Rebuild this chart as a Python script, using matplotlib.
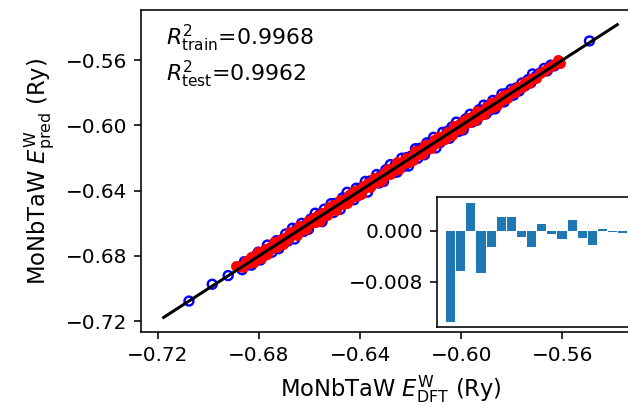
import numpy as np
import matplotlib
matplotlib.use("Agg")
import matplotlib.pyplot as plt

# Training set: DFT energies and model predictions (Ry)
train_dft = [
    -0.7076, -0.6984, -0.6921,
    -0.6876, -0.6866, -0.6857, -0.6848, -0.6839, -0.6829, -0.6820, -0.6811, -0.6802, -0.6793,
    -0.6784, -0.6775, -0.6766, -0.6757, -0.6748, -0.6739, -0.6730, -0.6721, -0.6712, -0.6703,
    -0.6694, -0.6685, -0.6676, -0.6667, -0.6658, -0.6649, -0.6640, -0.6631, -0.6622, -0.6613,
    -0.6604, -0.6595, -0.6586, -0.6577, -0.6568, -0.6559, -0.6550, -0.6541, -0.6532, -0.6523,
    -0.6514, -0.6505, -0.6496, -0.6487, -0.6478, -0.6469, -0.6460, -0.6451, -0.6442, -0.6433,
    -0.6424, -0.6415, -0.6406, -0.6397, -0.6388, -0.6379, -0.6370, -0.6361, -0.6352, -0.6343,
    -0.6334, -0.6325, -0.6316, -0.6307, -0.6298, -0.6289, -0.6280, -0.6271, -0.6262, -0.6253,
    -0.6244, -0.6235, -0.6226, -0.6217, -0.6208, -0.6199, -0.6190, -0.6181, -0.6172, -0.6163,
    -0.6154, -0.6145, -0.6136, -0.6127, -0.6118, -0.6109, -0.6100, -0.6091, -0.6082, -0.6073,
    -0.6064, -0.6055, -0.6046, -0.6037, -0.6028, -0.6019, -0.6010, -0.6001, -0.5992, -0.5983,
    -0.5974, -0.5965, -0.5956, -0.5947, -0.5938, -0.5929, -0.5920, -0.5911, -0.5902, -0.5893,
    -0.5884, -0.5875, -0.5866, -0.5857, -0.5848, -0.5839, -0.5830, -0.5821, -0.5812, -0.5803,
    -0.5793, -0.5782, -0.5771, -0.5760, -0.5748, -0.5736, -0.5724, -0.5718, -0.5705, -0.5690,
    -0.5672, -0.5660, -0.5646, -0.5632,
    -0.5493,
]
train_pred = [
    -0.7076, -0.6973, -0.6920,
    -0.6866, -0.6884, -0.6835, -0.6857, -0.6836, -0.6856, -0.6805, -0.6825, -0.6776, -0.6824,
    -0.6778, -0.6795, -0.6733, -0.6762, -0.6777, -0.6727, -0.6706, -0.6755, -0.6704, -0.6719,
    -0.6665, -0.6709, -0.6674, -0.6630, -0.6696, -0.6632, -0.6651, -0.6600, -0.6649, -0.6608,
    -0.6637, -0.6574, -0.6593, -0.6538, -0.6590, -0.6546, -0.6590, -0.6513, -0.6547, -0.6519,
    -0.6479, -0.6534, -0.6478, -0.6490, -0.6514, -0.6444, -0.6479, -0.6410, -0.6452, -0.6424,
    -0.6456, -0.6385, -0.6429, -0.6383, -0.6394, -0.6343, -0.6409, -0.6341, -0.6365, -0.6342,
    -0.6301, -0.6353, -0.6305, -0.6344, -0.6272, -0.6297, -0.6240, -0.6292, -0.6246, -0.6286,
    -0.6237, -0.6201, -0.6251, -0.6198, -0.6249, -0.6189, -0.6202, -0.6143, -0.6202, -0.6140,
    -0.6158, -0.6180, -0.6107, -0.6144, -0.6106, -0.6073, -0.6138, -0.6088, -0.6104, -0.6042,
    -0.6078, -0.6037, -0.6079, -0.6010, -0.6034, -0.5980, -0.6037, -0.5992, -0.6028, -0.5961,
    -0.5985, -0.5932, -0.5980, -0.5941, -0.5969, -0.5904, -0.5929, -0.5876, -0.5930, -0.5879,
    -0.5904, -0.5847, -0.5899, -0.5847, -0.5853, -0.5808, -0.5856, -0.5804, -0.5827, -0.5779,
    -0.5815, -0.5770, -0.5789, -0.5740, -0.5758, -0.5720, -0.5738, -0.5685, -0.5700, -0.5681,
    -0.5651, -0.5666, -0.5631, -0.5636,
    -0.5483,
]

# Test set: DFT energies and model predictions (Ry)
test_dft = [
    -0.6891, -0.6874, -0.6862, -0.6851, -0.6840, -0.6830, -0.6820, -0.6811, -0.6802, -0.6793,
    -0.6784, -0.6775, -0.6766, -0.6757, -0.6748, -0.6739, -0.6730, -0.6721, -0.6712, -0.6703,
    -0.6694, -0.6685, -0.6676, -0.6667, -0.6658, -0.6649, -0.6640, -0.6631, -0.6622, -0.6613,
    -0.6604, -0.6595, -0.6586, -0.6577, -0.6568, -0.6559, -0.6550, -0.6541, -0.6532, -0.6523,
    -0.6514, -0.6505, -0.6496, -0.6487, -0.6478, -0.6469, -0.6460, -0.6451, -0.6442, -0.6433,
    -0.6424, -0.6415, -0.6406, -0.6397, -0.6388, -0.6379, -0.6370, -0.6361, -0.6352, -0.6343,
    -0.6334, -0.6325, -0.6316, -0.6307, -0.6298, -0.6289, -0.6280, -0.6271, -0.6262, -0.6253,
    -0.6244, -0.6235, -0.6226, -0.6217, -0.6208, -0.6199, -0.6190, -0.6181, -0.6172, -0.6163,
    -0.6154, -0.6145, -0.6136, -0.6127, -0.6118, -0.6109, -0.6100, -0.6091, -0.6082, -0.6073,
    -0.6064, -0.6055, -0.6046, -0.6037, -0.6028, -0.6019, -0.6010, -0.6001, -0.5992, -0.5983,
    -0.5974, -0.5965, -0.5956, -0.5947, -0.5938, -0.5929, -0.5920, -0.5911, -0.5902, -0.5893,
    -0.5884, -0.5875, -0.5866, -0.5857, -0.5848, -0.5839, -0.5829, -0.5819, -0.5808, -0.5797,
    -0.5786, -0.5774, -0.5761, -0.5748, -0.5734, -0.5720, -0.5705, -0.5690, -0.5672, -0.5655,
    -0.5638, -0.5617, -0.5611,
]
test_pred = [
    -0.6864, -0.6862, -0.6870, -0.6833, -0.6843, -0.6808, -0.6834, -0.6802, -0.6777, -0.6812,
    -0.6780, -0.6759, -0.6788, -0.6746, -0.6754, -0.6715, -0.6745, -0.6719, -0.6693, -0.6727,
    -0.6686, -0.6696, -0.6653, -0.6669, -0.6644, -0.6669, -0.6614, -0.6640, -0.6617, -0.6636,
    -0.6587, -0.6599, -0.6565, -0.6594, -0.6558, -0.6584, -0.6537, -0.6540, -0.6550, -0.6499,
    -0.6521, -0.6490, -0.6517, -0.6480, -0.6456, -0.6482, -0.6457, -0.6475, -0.6424, -0.6438,
    -0.6399, -0.6431, -0.6397, -0.6419, -0.6374, -0.6380, -0.6350, -0.6380, -0.6346, -0.6320,
    -0.6346, -0.6315, -0.6341, -0.6291, -0.6301, -0.6268, -0.6298, -0.6267, -0.6271, -0.6227,
    -0.6265, -0.6223, -0.6232, -0.6198, -0.6223, -0.6191, -0.6214, -0.6159, -0.6174, -0.6150,
    -0.6174, -0.6120, -0.6146, -0.6122, -0.6141, -0.6092, -0.6105, -0.6070, -0.6098, -0.6064,
    -0.6086, -0.6041, -0.6045, -0.6056, -0.6004, -0.6027, -0.5999, -0.6025, -0.5974, -0.5987,
    -0.5954, -0.5982, -0.5949, -0.5968, -0.5915, -0.5940, -0.5917, -0.5929, -0.5886, -0.5899,
    -0.5863, -0.5889, -0.5858, -0.5877, -0.5835, -0.5842, -0.5811, -0.5831, -0.5802, -0.5782,
    -0.5796, -0.5765, -0.5768, -0.5736, -0.5739, -0.5710, -0.5708, -0.5682, -0.5668, -0.5646,
    -0.5632, -0.5597, -0.5621,
]

r2_train = "0.9968"
r2_test = "0.9962"

# Inset: bar heights
inset_vals = [
    -0.01427, -0.00627, 0.00434, -0.00659, -0.00251, 0.00214, 0.00212, -0.00094, -0.00251,
    0.00105, -0.00047, -0.00125, 0.00167, -0.00110, -0.00220, 0.00026, -0.00016, -0.00031,
]

main_ticks = [-0.72, -0.68, -0.64, -0.60, -0.56]
inset_ticks = [0.0, -0.008]

DPI = 144
fig = plt.figure(figsize=(628 / DPI, 405 / DPI), dpi=DPI)
ax = fig.add_axes([0.2245, 0.1802, 0.7946, 0.7951])

ax.scatter(train_dft, train_pred, s=20, facecolors="none", edgecolors="b", linewidths=1.2, zorder=2)
ax.scatter(test_dft, test_pred, s=20, c="r", zorder=3)

all_vals = np.concatenate([train_dft, train_pred, test_dft, test_pred])
lo, hi = all_vals.min() - 0.01, all_vals.max() + 0.01
ax.plot([lo, hi], [lo, hi], "k-", lw=1.5, zorder=4)

ax.set_xticks(main_ticks)
ax.set_yticks(main_ticks)
ax.set_xlabel(r"MoNbTaW $E^{\rm W}_{\rm DFT}$ (Ry)", fontsize=11.3)
ax.set_ylabel(r"MoNbTaW $E^{\rm W}_{\rm pred}$ (Ry)", fontsize=11.3)

ax.text(0.05, 0.96,
        r"$R^2_{\rm train}$=" + r2_train + "\n" + r"$R^2_{\rm test}$=" + r2_test,
        transform=ax.transAxes, va="top", ha="left", fontsize=11)

ins = fig.add_axes([0.6959, 0.1914, 0.3175, 0.3210])
ins.bar(np.arange(len(inset_vals)), inset_vals, width=0.9, color="C0")
ins.set_xticks([])
ins.set_yticks(inset_ticks)
ins.set_yticklabels(["0.000", "\u22120.008"])

fig.savefig("out.png", dpi=DPI)
